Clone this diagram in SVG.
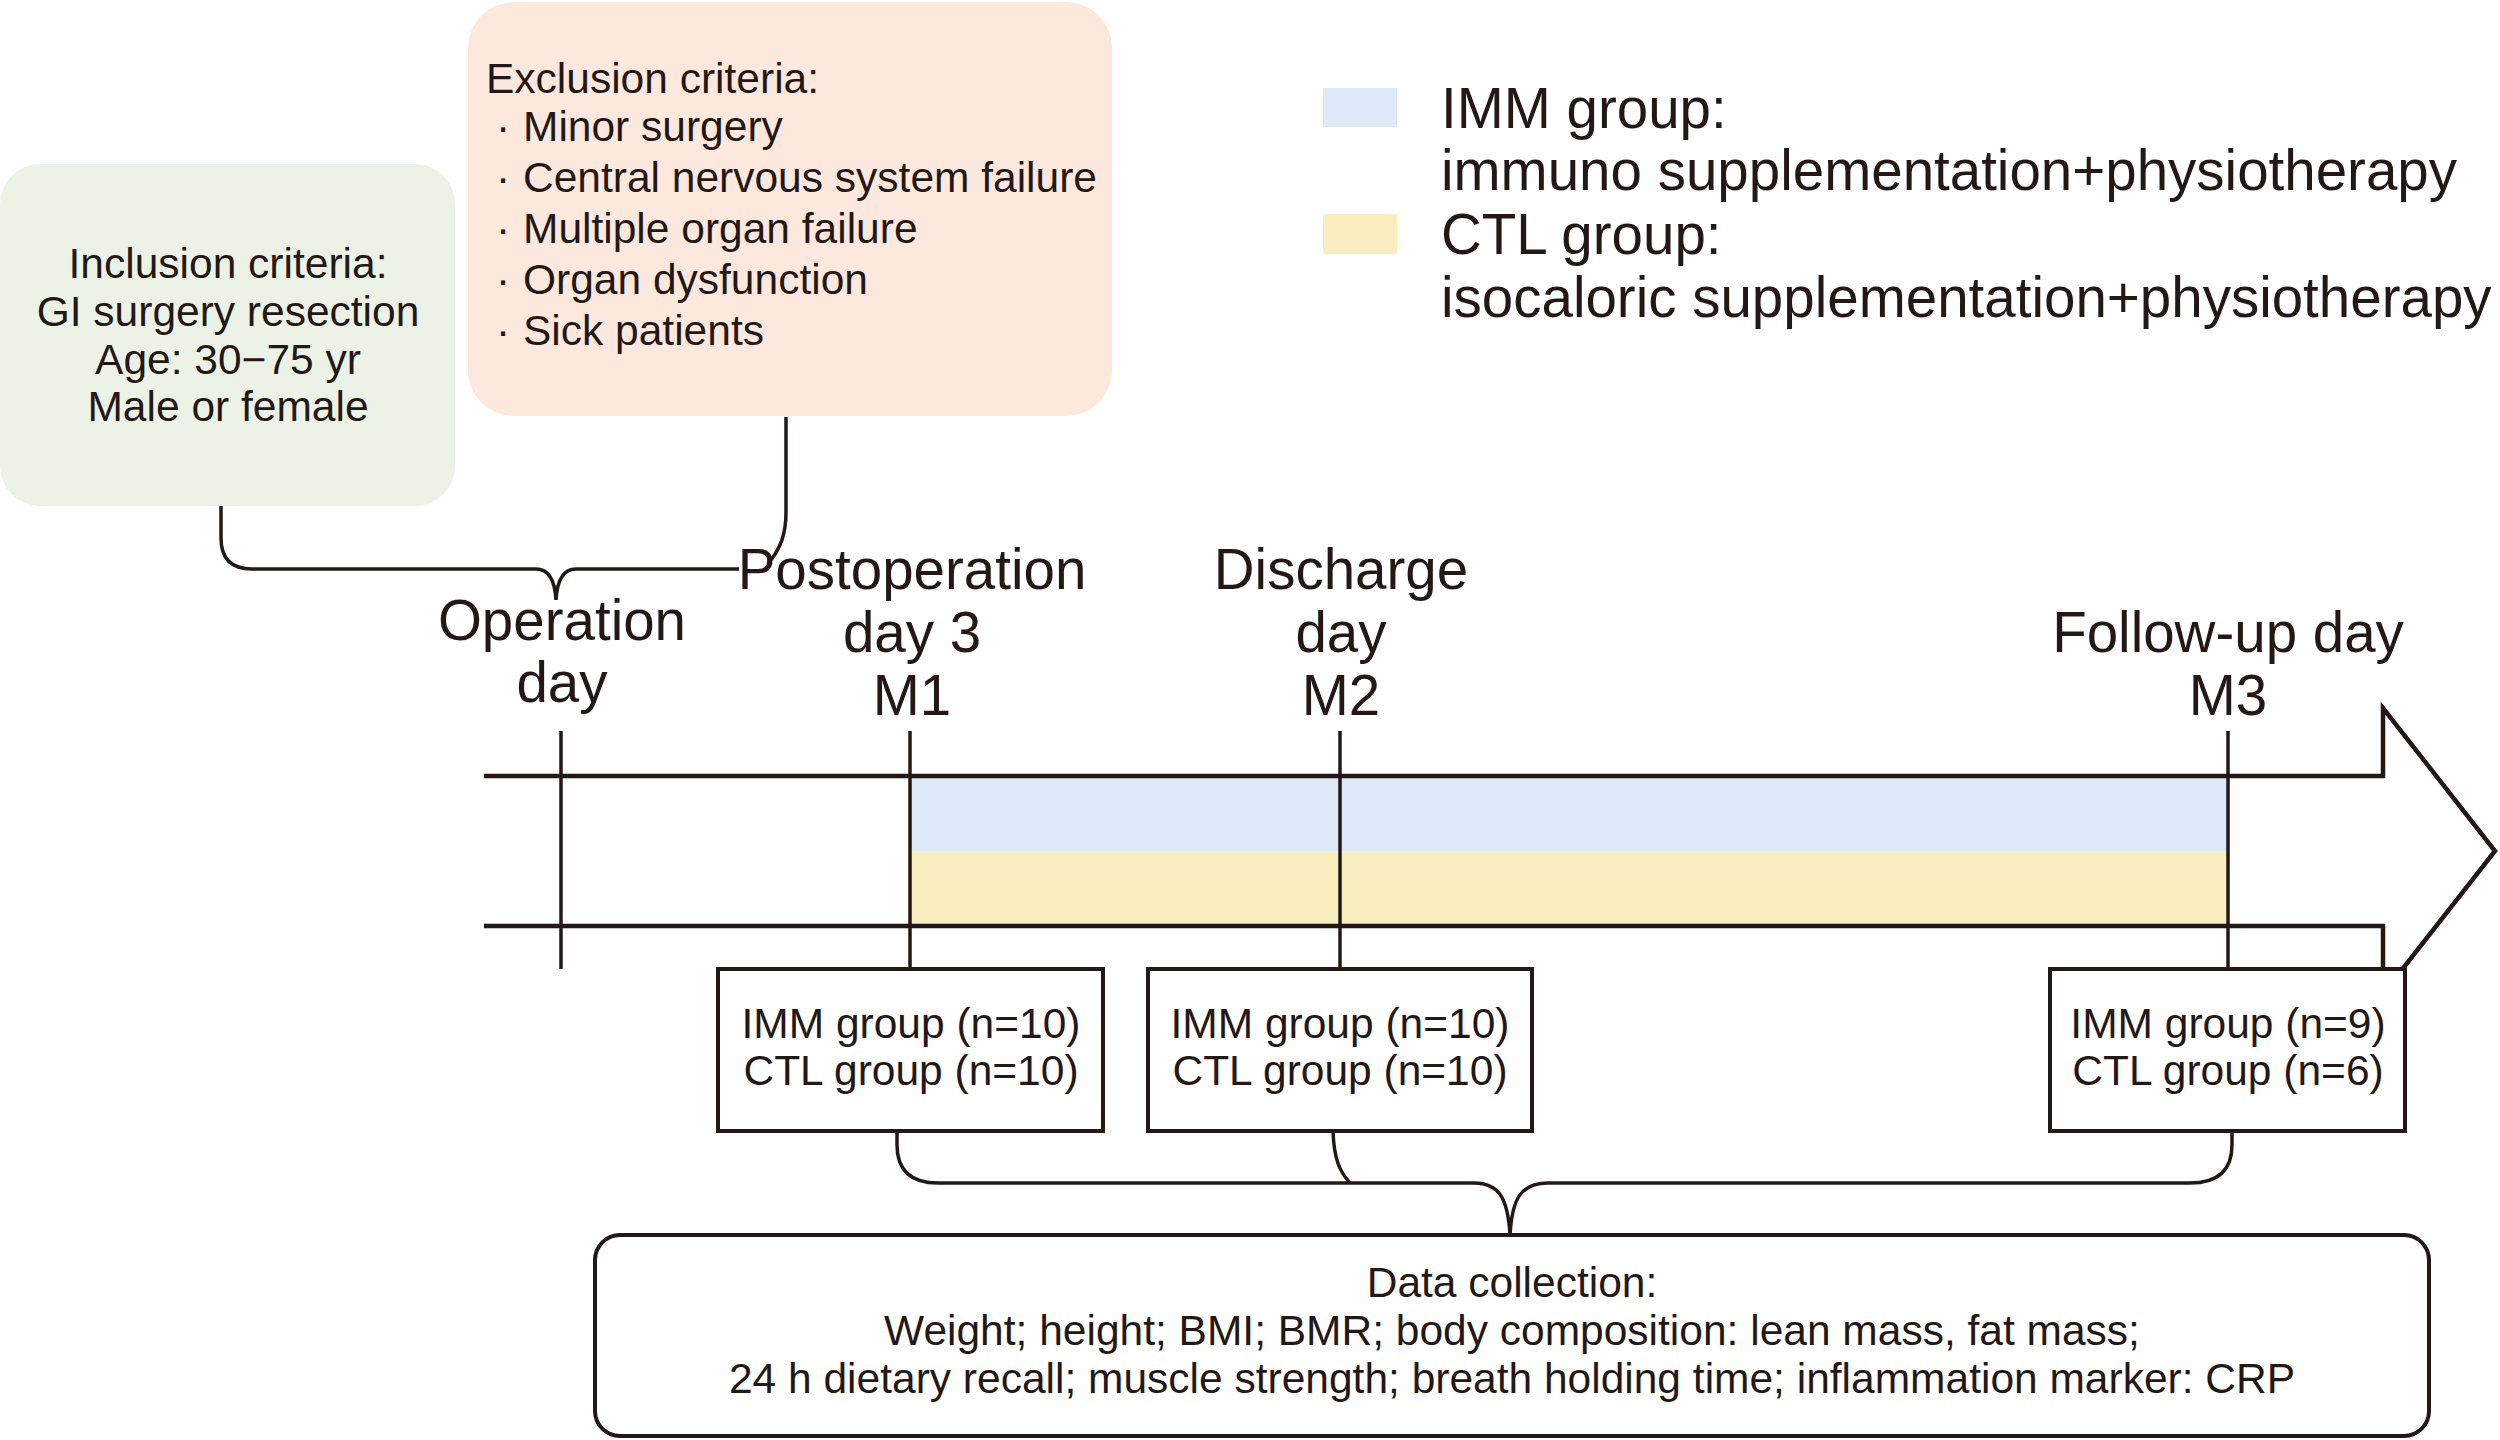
<svg xmlns="http://www.w3.org/2000/svg" width="2500" height="1440" viewBox="0 0 2500 1440">
<style>
text{font-family:"Liberation Sans",Arial,Helvetica,sans-serif;fill:#231815}
.s{font-size:42.5px}
.b{font-size:56.5px}
.m{text-anchor:middle}
.ln{fill:none;stroke:#231815;stroke-width:3.5}
.bx{fill:#fff;stroke:#231815;stroke-width:4}
.tl{fill:none;stroke:#231815;stroke-width:4.5}
</style>
<rect width="2500" height="1440" fill="#fff"/>

<g id="inclusion">
<rect x="0" y="164" width="455" height="342" rx="40" fill="#ecf3e6"/>
<text class="s m" x="228"><tspan x="228" y="278">Inclusion criteria:</tspan><tspan x="228" y="326">GI surgery resection</tspan><tspan x="228" y="374">Age: 30−75 yr</tspan><tspan x="228" y="421">Male or female</tspan></text>
</g>

<g id="exclusion">
<rect x="468" y="2" width="644" height="414" rx="46" fill="#fde8de"/>
<text class="s" x="486" y="93">Exclusion criteria:</text>
<text class="s"><tspan x="496" y="141">·</tspan><tspan x="523" y="141">Minor surgery</tspan></text>
<text class="s"><tspan x="496" y="192">·</tspan><tspan x="523" y="192">Central nervous system failure</tspan></text>
<text class="s"><tspan x="496" y="243">·</tspan><tspan x="523" y="243">Multiple organ failure</tspan></text>
<text class="s"><tspan x="496" y="294">·</tspan><tspan x="523" y="294">Organ dysfunction</tspan></text>
<text class="s"><tspan x="496" y="345">·</tspan><tspan x="523" y="345">Sick patients</tspan></text>
</g>

<g id="legend">
<rect x="1323" y="88" width="74" height="39" fill="#dde9f7"/>
<rect x="1323" y="214" width="74" height="40" fill="#f9eec0"/>
<text class="b" x="1441" y="128">IMM group:</text>
<text class="b" x="1441" y="190">immuno supplementation+physiotherapy</text>
<text class="b" x="1441" y="254">CTL group:</text>
<text class="b" x="1441" y="317">isocaloric supplementation+physiotherapy</text>
</g>

<g id="timeline">
<rect x="910" y="778" width="1318" height="73" fill="#dde9f7"/>
<rect x="910" y="851" width="1318" height="74" fill="#f9eec0"/>
<path class="tl" d="M484 776 L2383 776 L2383 708 L2495 851 L2383 994 L2383 926 L484 926"/>
</g>

<g id="labels">
<text class="b m" x="562" y="640">Operation</text>
<text class="b m" x="562" y="702">day</text>
<text class="b m" x="912" y="589">Postoperation</text>
<text class="b m" x="912" y="652">day 3</text>
<text class="b m" x="912" y="715">M1</text>
<text class="b m" x="1341" y="589">Discharge</text>
<text class="b m" x="1341" y="652">day</text>
<text class="b m" x="1341" y="715">M2</text>
<text class="b m" x="2228" y="652">Follow-up day</text>
<text class="b m" x="2228" y="715">M3</text>
</g>

<g id="connectors">
<path class="ln" d="M561 731 L561 969"/>
<path class="ln" d="M910 731 L910 969"/>
<path class="ln" d="M1340 731 L1340 969"/>
<path class="ln" d="M2228 731 L2228 969"/>
<path class="ln" d="M221 506 L221 538 Q221 569 252 569 L536 569 C550 569 555 582 556 600 C557 582 562 569 576 569 L739 569"/>
<path class="ln" d="M786 417 L786 512 C786 535 780 548 771 560"/>
<path class="ln" d="M897 1131 L897 1145 Q897 1183 938 1183 L1474 1183 C1500 1183 1508 1200 1510 1235 C1512 1200 1520 1183 1548 1183 L2190 1183 Q2232 1183 2232 1145 L2232 1131"/>
<path class="ln" d="M1333 1131 C1334 1160 1340 1172 1350 1183"/>
</g>

<g id="m1box">
<rect class="bx" x="718" y="969" width="385" height="162"/>
<text class="s m" x="911" y="1038">IMM group (n=10)</text>
<text class="s m" x="911" y="1085">CTL group (n=10)</text>
</g>
<g id="m2box">
<rect class="bx" x="1148" y="969" width="384" height="162"/>
<text class="s m" x="1340" y="1038">IMM group (n=10)</text>
<text class="s m" x="1340" y="1085">CTL group (n=10)</text>
</g>
<g id="m3box">
<rect class="bx" x="2050" y="969" width="355" height="162"/>
<text class="s m" x="2228" y="1038">IMM group (n=9)</text>
<text class="s m" x="2228" y="1085">CTL group (n=6)</text>
</g>

<g id="datacollection">
<rect class="bx" x="595" y="1235" width="1834" height="201" rx="25"/>
<text class="s m" x="1512" y="1297">Data collection:</text>
<text class="s m" x="1512" y="1345">Weight; height; BMI; BMR; body composition: lean mass, fat mass;</text>
<text class="s m" x="1512" y="1393">24 h dietary recall; muscle strength; breath holding time; inflammation marker: CRP</text>
</g>
</svg>
